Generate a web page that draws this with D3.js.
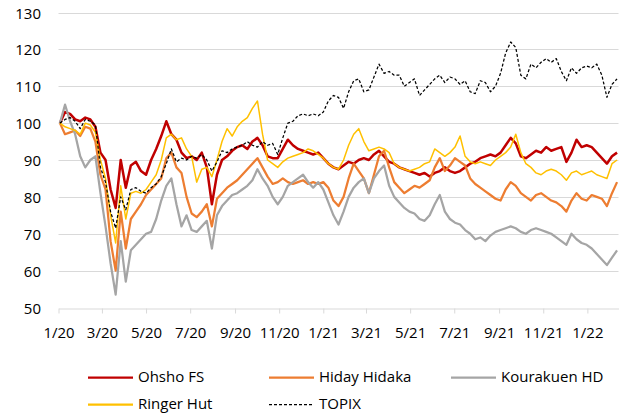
<!DOCTYPE html>
<html>
<head>
<meta charset="utf-8">
<script src="https://cdn.jsdelivr.net/npm/d3@7"></script>
<style>
  body { margin: 0; background: #fff; }
  text { font-family: "Open Sans", sans-serif; font-size: 15px; fill: #000; }
</style>
</head>
<body>
<div id="chart"></div>
<script>
// weekly closes (Fridays), indexed to 100 at start of 2020
const dates = d3.timeFriday.range(new Date(2020, 0, 3), new Date(2022, 1, 12));

const ohsho = [
  100, 103, 102.5, 101, 100.5, 101.5, 101, 99, 92, 90,
  82, 77, 90, 82.5, 88.5, 89.5, 87, 86, 90, 93,
  96.5, 100.5, 97, 95.5, 92, 90.5, 91, 90, 92, 88,
  78, 86, 90, 91, 92.5, 93.5, 94, 93, 95, 96,
  94, 91, 90.5, 90.5, 93, 95.5, 94, 93, 92.5, 92,
  91.5, 92, 90.5, 89, 88, 87.5, 88.5, 89.5, 89, 90,
  90.5, 90, 91.5, 92.5, 91, 89.5, 89, 88, 87.5, 87,
  86.5, 86, 86.5, 85.5, 86.5, 87, 88, 87, 86.5, 87,
  88, 89, 89.5, 90.5, 91, 91.5, 91, 92, 94, 96,
  94.5, 91, 90.5, 91.5, 92.5, 92, 93.5, 92.5, 93, 93.5,
  89.5, 92, 95.5, 93.5, 94, 93.5, 92, 90.5, 89, 91, 92
];

const hiday = [
  100, 97, 97.5, 98, 96.5, 99, 98.5, 95, 86, 82,
  68, 60, 76, 66, 74, 76, 78, 80.5, 82, 83.5,
  85, 90.5, 92, 88, 86.5, 80, 75.5, 74.5, 76, 78,
  72, 79.5, 81, 82.5, 83.5, 84.5, 86, 87.5, 89, 90.5,
  88, 85.5, 83.5, 84, 85, 84, 83.5, 84, 84.5, 83.5,
  84, 83.5, 84, 82.5, 79, 77.5, 80, 85, 89, 87,
  85, 81, 86, 91, 92.5, 88, 84, 82.5, 81, 82,
  83, 82.5, 83.5, 84.5, 88, 90.5, 87, 88.5, 90.5, 89.5,
  88.5, 85, 83.5, 82.5, 81.5, 80.5, 79.5, 79, 82, 84,
  83, 81, 80, 79, 80.5, 81, 80, 79, 78.5, 77.5,
  76, 79, 81, 79.5, 79, 80.5, 80, 79.5, 77.5, 81, 84
];

const kourakuen = [
  100, 105, 100.5, 97, 91, 88, 90, 91, 81, 72,
  62, 53.5, 68, 57, 65.5, 67, 68.5, 70, 70.5, 74,
  79, 83, 85, 78, 72, 75, 71, 70.5, 72, 73.5,
  66, 75, 77.5, 79, 80.5, 81, 82, 83, 84.5, 87.5,
  85, 83, 80, 78, 80, 83, 84, 85, 86, 84,
  82.5, 84, 82, 78.5, 75, 72.5, 76, 80, 82.5, 84,
  85, 81, 85, 87, 88.5, 83, 80, 78.5, 77, 76,
  75.5, 74, 73.5, 75, 78, 80.5, 76, 74, 73, 72.5,
  71, 70, 68.5, 69, 68, 69.5, 70.5, 71, 71.5, 72,
  71.5, 70.5, 70, 71, 71.5, 71, 70.5, 70, 69, 68,
  67, 70, 68.5, 67.5, 67, 66, 64.5, 63, 61.5, 63.5, 65.5
];

const ringer = [
  100, 99, 98.5, 98, 97, 100, 99.5, 97.5, 90, 85,
  75, 67.5, 83, 74, 81, 81.5, 81, 82, 84, 86,
  90, 96, 97, 95.5, 96, 93, 91, 84, 87.5, 88,
  85.5, 90, 95, 98.5, 96.5, 99, 100.5, 101.5, 104, 106,
  97, 90, 89, 88, 89.5, 90.5, 91, 91.5, 92, 93,
  92.5, 91.5, 90.5, 89, 88, 87.5, 90, 94, 97, 98.5,
  95, 92.5, 93, 93.5, 93, 92, 89, 88, 87.5, 87,
  87.5, 88, 89, 89.5, 93, 92, 91, 92, 93.5, 96.5,
  91, 89.5, 89, 89.5, 89, 88.5, 90, 91, 92, 93.5,
  97, 92, 89, 88, 86.5, 86, 87, 87.5, 87, 86,
  84.5, 86.5, 87, 86, 86.5, 87, 86, 85.5, 85, 89, 90
];

const topix = [
  100, 101, 101.5, 100.5, 98.5, 101, 100.5, 99.5, 88, 84,
  76, 71.5, 80, 76.5, 82, 82.5, 81.5, 81, 82.5, 83.5,
  85.5, 89, 93, 89.5, 90.5, 90, 91, 90.5, 91.5, 90,
  87, 89.5, 92.5, 92, 93, 93.5, 94, 95, 94, 93.5,
  95, 94, 94.5, 91.5, 96, 100, 100.5, 102, 102.5, 102,
  102.5, 102, 103, 106, 107.5, 107, 104, 108.5, 111.5, 112,
  108.5, 109, 112.5, 116, 113.5, 114, 113, 113, 110, 111,
  112, 107.5, 109, 110.5, 112, 113, 111, 112.5, 112, 110.5,
  111.5, 108.5, 108, 111.5, 111, 108.5, 110, 113.5, 119, 122,
  120.5, 113, 112, 116, 115, 116.5, 117.5, 116.5, 117.5, 114,
  111.5, 115, 113.5, 115, 115.5, 115, 116, 113, 107, 110.5, 112
];

const seriesNames = ["Ohsho FS", "Hiday Hidaka", "Kourakuen HD", "Ringer Hut", "TOPIX"];
const yTicks = [50, 60, 70, 80, 90, 100, 110, 120, 130];

const series = [
  { name: seriesNames[0], values: ohsho, color: "#c00000", width: 2.5 },
  { name: seriesNames[1], values: hiday, color: "#ed7d31", width: 2.25 },
  { name: seriesNames[2], values: kourakuen, color: "#a5a5a5", width: 2.25 },
  { name: seriesNames[3], values: ringer, color: "#ffc000", width: 1.5 },
  { name: seriesNames[4], values: topix, color: "#000", width: 1.25, dash: "3,2" }
];

const width = 624, height = 415;
const svg = d3.select("#chart").append("svg")
  .attr("width", width)
  .attr("height", height);

const x = d3.scaleTime()
  .domain([new Date(2020, 0, 1), new Date(2022, 1, 13)])
  .range([58.5, 618.5]);
const y = d3.scaleLinear().domain([50, 130]).range([307.5, 12.5]);
const py = v => Math.round(y(v)) + 0.5;

// gridlines
svg.append("g").selectAll("line")
  .data(yTicks.slice(1))
  .enter().append("line")
  .attr("x1", x.range()[0]).attr("x2", x.range()[1])
  .attr("y1", py).attr("y2", py)
  .attr("stroke", "#d9d9d9").attr("stroke-width", 1);

// y labels
svg.append("g").selectAll("text")
  .data(yTicks)
  .enter().append("text")
  .attr("x", 41)
  .attr("y", py)
  .attr("dy", "0.36em")
  .attr("text-anchor", "end")
  .text(d => d);

// x axis
const xAxis = d3.axisBottom(x)
  .tickValues(d3.timeMonth.every(2).range(new Date(2020, 0, 1), new Date(2022, 1, 2)))
  .tickFormat(d3.timeFormat("%-m/%y"))
  .tickSizeInner(5)
  .tickSizeOuter(0)
  .tickPadding(14);

const gx = svg.append("g")
  .attr("transform", `translate(0, ${py(50)})`)
  .call(xAxis);
gx.select(".domain").attr("stroke", "#d9d9d9");
gx.selectAll(".tick line").attr("stroke", "#d9d9d9");
gx.selectAll(".tick text")
  .attr("fill", "#000")
  .style("font-family", "'Open Sans', sans-serif")
  .style("font-size", "15px");

// lines
const line = d3.line()
  .x((d, i) => x(dates[i]))
  .y(d => y(d));

svg.append("g").selectAll("path")
  .data(series)
  .enter().append("path")
  .attr("d", d => line(d.values))
  .attr("fill", "none")
  .attr("stroke", d => d.color)
  .attr("stroke-width", d => d.width)
  .attr("stroke-dasharray", d => d.dash || null)
  .attr("stroke-linejoin", "round");

// legend
const legendX = [88, 269, 451];
const legendY = [377, 404];
const legend = svg.append("g").selectAll("g")
  .data(series)
  .enter().append("g")
  .attr("transform", (d, i) => `translate(${legendX[i % 3]}, ${legendY[Math.floor(i / 3)]})`);

legend.append("line")
  .attr("x1", 0).attr("x2", 45)
  .attr("y1", 0.5).attr("y2", 0.5)
  .attr("stroke", d => d.color)
  .attr("stroke-width", d => d.dash ? 1.25 : 2.25)
  .attr("stroke-dasharray", d => d.dash || null);

legend.append("text")
  .attr("x", 50)
  .attr("y", 0)
  .attr("dy", "0.36em")
  .text(d => d.name);
</script>
</body>
</html>
